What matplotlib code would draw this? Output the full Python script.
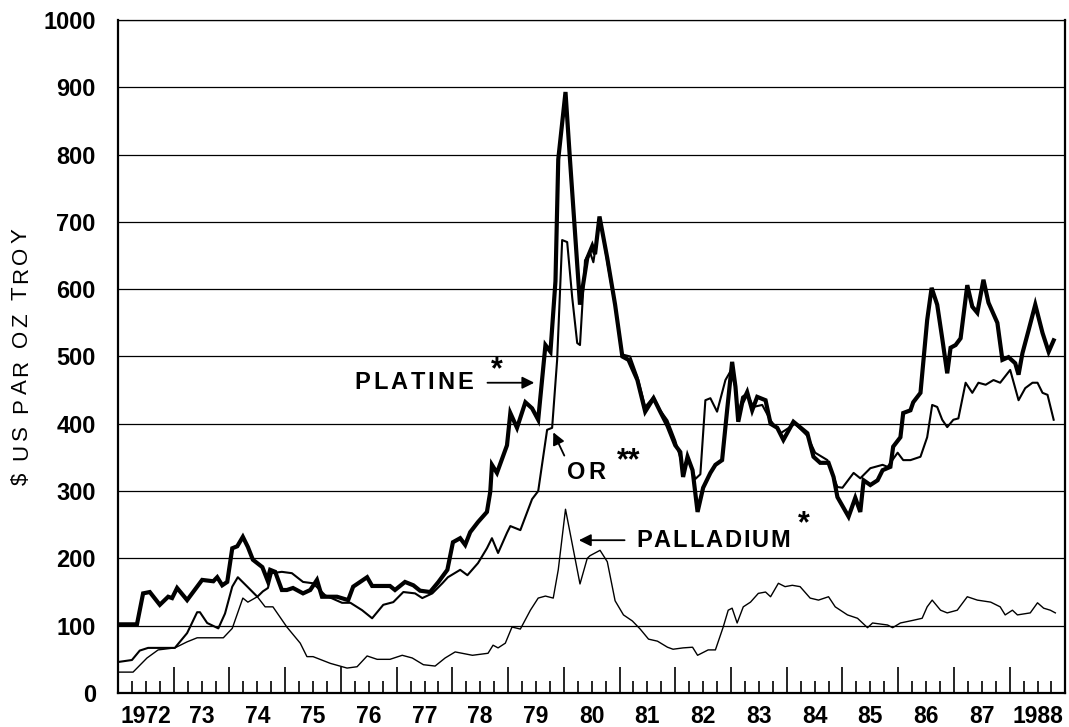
import numpy as np
import matplotlib
matplotlib.use("Agg")
import matplotlib.pyplot as plt
from matplotlib.ticker import FixedLocator, FuncFormatter
from matplotlib.transforms import offset_copy

# monthly-ish prices, $ per troy ounce (dates as decimal years)
plat_t = [1972.00, 1972.34, 1972.45, 1972.57, 1972.75, 1972.90, 1972.97, 1973.06, 1973.24, 1973.51,
          1973.71, 1973.78, 1973.87, 1973.96, 1974.05, 1974.14, 1974.24, 1974.33, 1974.42, 1974.59,
          1974.68, 1974.73, 1974.82, 1974.94, 1975.03, 1975.14, 1975.32, 1975.45, 1975.57, 1975.66,
          1975.93, 1976.13, 1976.22, 1976.47, 1976.56, 1976.88, 1976.97, 1977.15, 1977.30, 1977.42,
          1977.60, 1977.75, 1977.91, 1978.01, 1978.14, 1978.23, 1978.32, 1978.46, 1978.62, 1978.68,
          1978.71, 1978.80, 1978.98, 1979.04, 1979.16, 1979.31, 1979.43, 1979.54, 1979.67, 1979.76,
          1979.85, 1979.90, 1980.03, 1980.11, 1980.29, 1980.42, 1980.51, 1980.56, 1980.64, 1980.78,
          1980.92, 1981.05, 1981.16, 1981.32, 1981.46, 1981.61, 1981.73, 1981.86, 1982.00, 1982.09,
          1982.14, 1982.22, 1982.31, 1982.40, 1982.50, 1982.63, 1982.72, 1982.84, 1982.93, 1983.02,
          1983.08, 1983.13, 1983.20, 1983.29, 1983.38, 1983.47, 1983.62, 1983.71, 1983.83, 1983.94,
          1984.12, 1984.37, 1984.48, 1984.60, 1984.75, 1984.84, 1984.91, 1985.11, 1985.23, 1985.32,
          1985.38, 1985.50, 1985.63, 1985.72, 1985.86, 1985.91, 1986.04, 1986.09, 1986.22, 1986.27,
          1986.40, 1986.52, 1986.60, 1986.70, 1986.79, 1986.88, 1986.94, 1987.03, 1987.12, 1987.24,
          1987.33, 1987.42, 1987.53, 1987.62, 1987.78, 1987.87, 1987.98, 1988.10, 1988.16, 1988.23,
          1988.34, 1988.46, 1988.59, 1988.70, 1988.79]
plat_v = [102, 102, 148, 150, 131, 143, 141, 156, 138, 168,
          166, 172, 160, 165, 215, 218, 232, 217, 198, 187,
          168, 183, 180, 153, 153, 156, 148, 153, 168, 143,
          143, 138, 158, 172, 159, 159, 153, 165, 160, 152,
          150, 165, 183, 224, 230, 220, 239, 254, 269, 299,
          339, 327, 368, 416, 394, 432, 423, 406, 517, 507,
          612, 793, 893, 793, 577, 646, 664, 652, 708, 646,
          577, 500, 495, 465, 418, 438, 418, 397, 368, 358,
          321, 351, 331, 269, 305, 327, 339, 346, 420, 492,
          455, 403, 431, 447, 420, 440, 435, 400, 394, 376,
          403, 386, 351, 342, 342, 321, 291, 262, 290, 269,
          316, 309, 316, 331, 336, 366, 380, 416, 420, 432,
          446, 554, 602, 577, 527, 475, 513, 517, 527, 606,
          574, 565, 614, 580, 550, 495, 499, 490, 473, 505,
          539, 577, 535, 507, 524]

gold_t = [1972.00, 1972.25, 1972.39, 1972.54, 1973.02, 1973.24, 1973.42, 1973.47, 1973.60, 1973.80,
          1973.92, 1974.05, 1974.15, 1974.32, 1974.50, 1974.60, 1974.69, 1974.76, 1974.94, 1975.12,
          1975.32, 1975.50, 1975.72, 1976.02, 1976.17, 1976.38, 1976.56, 1976.76, 1976.94, 1977.12,
          1977.33, 1977.46, 1977.64, 1977.82, 1977.92, 1978.14, 1978.27, 1978.46, 1978.62, 1978.71,
          1978.82, 1978.98, 1979.04, 1979.22, 1979.43, 1979.54, 1979.70, 1979.79, 1979.88, 1979.97,
          1980.06, 1980.15, 1980.24, 1980.29, 1980.38, 1980.47, 1980.53, 1980.65, 1980.78, 1980.92,
          1981.05, 1981.19, 1981.32, 1981.46, 1981.61, 1981.73, 1981.86, 1982.00, 1982.14, 1982.23,
          1982.36, 1982.45, 1982.54, 1982.63, 1982.75, 1982.90, 1982.99, 1983.08, 1983.13, 1983.20,
          1983.29, 1983.40, 1983.56, 1983.71, 1983.89, 1984.15, 1984.37, 1984.51, 1984.73, 1984.91,
          1985.00, 1985.20, 1985.32, 1985.50, 1985.72, 1985.81, 1985.99, 1986.09, 1986.22, 1986.40,
          1986.52, 1986.61, 1986.70, 1986.79, 1986.88, 1986.99, 1987.08, 1987.21, 1987.33, 1987.44,
          1987.57, 1987.71, 1987.83, 1988.01, 1988.16, 1988.28, 1988.41, 1988.50, 1988.59, 1988.68,
          1988.79]
gold_v = [46, 49, 63, 67, 67, 89, 120, 120, 104, 96,
          118, 158, 172, 158, 143, 151, 156, 178, 180, 178,
          165, 163, 145, 134, 134, 123, 111, 131, 135, 150,
          148, 141, 148, 163, 172, 183, 175, 193, 215, 230,
          208, 238, 248, 242, 288, 300, 391, 394, 495, 673,
          670, 588, 520, 517, 643, 655, 640, 706, 640, 575,
          503, 500, 470, 425, 440, 420, 405, 375, 335, 350,
          318, 325, 435, 438, 418, 465, 478, 455, 410, 440,
          445, 425, 428, 405, 386, 400, 382, 357, 346, 306,
          305, 327, 319, 334, 339, 336, 357, 346, 346, 351,
          380, 428, 425, 406, 395, 406, 408, 461, 446, 461,
          458, 465, 461, 480, 435, 453, 461, 461, 446, 443,
          406]

pall_t = [1972.00, 1972.27, 1972.52, 1972.72, 1973.02, 1973.24, 1973.42, 1973.89, 1974.05, 1974.24,
          1974.33, 1974.50, 1974.64, 1974.78, 1975.03, 1975.27, 1975.39, 1975.50, 1975.81, 1976.11,
          1976.29, 1976.47, 1976.65, 1976.88, 1977.10, 1977.28, 1977.48, 1977.69, 1977.87, 1978.05,
          1978.36, 1978.64, 1978.73, 1978.82, 1978.95, 1979.07, 1979.22, 1979.40, 1979.54, 1979.67,
          1979.81, 1979.90, 1980.03, 1980.29, 1980.42, 1980.47, 1980.65, 1980.78, 1980.92, 1981.07,
          1981.23, 1981.37, 1981.52, 1981.68, 1981.86, 1981.96, 1982.14, 1982.31, 1982.40, 1982.59,
          1982.72, 1982.86, 1982.95, 1983.02, 1983.11, 1983.22, 1983.35, 1983.49, 1983.62, 1983.71,
          1983.85, 1983.97, 1984.10, 1984.24, 1984.42, 1984.57, 1984.75, 1984.87, 1985.09, 1985.27,
          1985.45, 1985.54, 1985.81, 1985.90, 1986.04, 1986.27, 1986.43, 1986.52, 1986.61, 1986.76,
          1986.88, 1987.06, 1987.24, 1987.42, 1987.66, 1987.83, 1987.92, 1988.05, 1988.14, 1988.37,
          1988.50, 1988.61, 1988.73, 1988.82]
pall_v = [31, 31, 52, 64, 67, 76, 82, 82, 96, 141,
          135, 143, 128, 128, 98, 74, 54, 54, 44, 37,
          39, 55, 50, 50, 56, 52, 42, 40, 52, 61,
          56, 59, 71, 67, 74, 98, 95, 123, 141, 144,
          141, 183, 273, 162, 200, 204, 212, 195, 137, 116,
          107, 95, 80, 77, 68, 65, 67, 68, 56, 64,
          64, 98, 123, 126, 104, 128, 135, 148, 150, 143,
          163, 158, 160, 158, 141, 138, 143, 128, 116, 111,
          97, 104, 101, 97, 104, 108, 111, 128, 138, 123,
          119, 123, 143, 138, 135, 128, 116, 123, 116, 119,
          134, 126, 123, 119]

years = list(range(1972, 1989))
year_labels = ["1972"] + [str(y)[2:] for y in years[1:-1]] + ["1988"]

plt.rcParams['font.family'] = ['Liberation Sans', 'DejaVu Sans']

fig = plt.figure(figsize=(10.69, 7.27), dpi=100)
ax = fig.add_axes([0.1104, 0.0468, 0.8862, 0.9257])
renderer = fig.canvas.get_renderer()


def spaced_text(x, y, s, track, transform, vertical=False, **kw):
    # draw a string letter by letter with extra spacing (in pixels)
    off = 0.0
    space = None
    for ch in s:
        if vertical:
            tr = offset_copy(transform, fig=fig, y=off, units='dots')
            t = fig.text(x, y, ch, transform=tr, rotation=90, ha='center', va='bottom', **kw)
            size = t.get_window_extent(renderer).height
        else:
            tr = offset_copy(transform, fig=fig, x=off, units='dots')
            t = fig.text(x, y, ch, transform=tr, ha='left', va='center', **kw)
            size = t.get_window_extent(renderer).width
        if ch == ' ':
            if space is None:
                probe = fig.text(0, 0, 'n', **kw)
                space = probe.get_window_extent(renderer).width * 0.5
                probe.remove()
            size = space
        off += size + track


ax.set_xlim(1972, 1989)
ax.set_ylim(0, 1000)

# horizontal rules every 100
for yv in range(100, 1001, 100):
    ax.axhline(yv, color='black', lw=0.9, zorder=1)

ax.plot(pall_t, pall_v, color='black', lw=1.0, zorder=3)
ax.plot(gold_t, gold_v, color='black', lw=1.5, zorder=4)
ax.plot(plat_t, plat_v, color='black', lw=3.0, solid_joinstyle='miter', zorder=5)

for s in ['left', 'bottom', 'right']:
    ax.spines[s].set_linewidth(1.6)
ax.spines['top'].set_linewidth(0.9)

ax.set_yticks(range(0, 1001, 100))
ax.tick_params(axis='y', length=0, pad=16, labelsize=17)

# year ticks tall, quarter ticks short, labels centred in each year
ax.xaxis.set_major_locator(FixedLocator(years[1:]))
ax.xaxis.set_major_formatter(FuncFormatter(lambda v, p: ""))
quarters = [y + q / 4 for y in years for q in (1, 2, 3)]
ax.xaxis.set_minor_locator(FixedLocator(quarters))
lab = {y + 0.5: l for y, l in zip(years, year_labels)}
ax.xaxis.set_minor_formatter(FuncFormatter(lambda v, p: lab.get(round(v, 2), "")))
ax.tick_params(axis='x', which='major', direction='in', length=19, width=1.2)
ax.tick_params(axis='x', which='minor', direction='in', length=9, width=1.2,
               labelsize=16.5, pad=9)

for lbl in ax.get_xticklabels(minor=True) + ax.get_yticklabels():
    lbl.set_fontweight('bold')

# y axis title, letter-spaced
spaced_text(0.020, 0.333, "$ US PAR OZ TROY", 3.3, fig.transFigure, vertical=True, fontsize=16)

# series labels with arrows
tk = dict(fontsize=17, fontweight='bold')
spaced_text(1976.25, 461, "PLATINE", 2.8, ax.transData, **tk)
ax.text(1978.80, 480, "*", fontsize=22, fontweight='bold', ha='center', va='center')
ax.annotate("", xy=(1979.52, 461), xytext=(1978.58, 461),
            arrowprops=dict(arrowstyle='-|>', color='black', lw=1.3, mutation_scale=18))

spaced_text(1980.06, 327, "OR", 3.0, ax.transData, **tk)
ax.text(1981.17, 345, "**", fontsize=22, fontweight='bold', ha='center', va='center')
ax.annotate("", xy=(1979.79, 391), xytext=(1980.03, 349),
            arrowprops=dict(arrowstyle='-|>', color='black', lw=1.3, mutation_scale=18))

spaced_text(1981.30, 226, "PALLADIUM", 1.8, ax.transData, **tk)
ax.text(1984.30, 250, "*", fontsize=22, fontweight='bold', ha='center', va='center')
ax.annotate("", xy=(1980.22, 227), xytext=(1981.14, 227),
            arrowprops=dict(arrowstyle='-|>', color='black', lw=1.3, mutation_scale=18))

fig.savefig("out.png", dpi=100)
